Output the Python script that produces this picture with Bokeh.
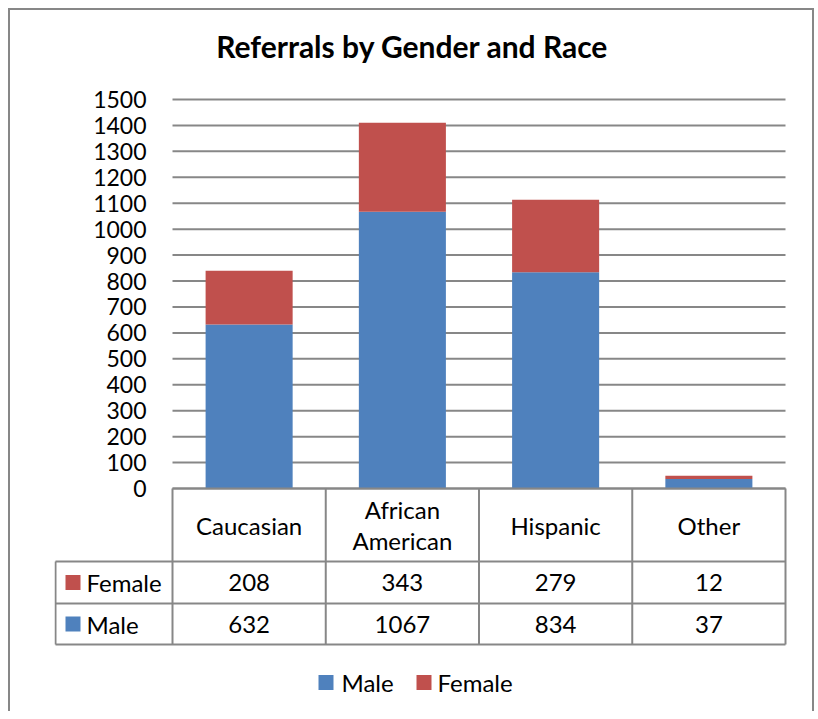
from bokeh.plotting import figure
from bokeh.layouts import column
from bokeh.models import Range1d, FixedTicker, ColumnDataSource
from bokeh.core.properties import value
from bokeh.embed import file_html
from bokeh.resources import INLINE

# ---- data ----
title = "Referrals by Gender and Race"
categories = ["Caucasian", "African\nAmerican", "Hispanic", "Other"]
series = ["Male", "Female"]
male = [632, 1067, 834, 37]
female = [208, 343, 279, 12]
colors = {"Male": "#4F81BD", "Female": "#C0504D"}
y_ticks = list(range(0, 1501, 100))

FONT = "Lato"
GRID = "#878787"

# ---- layout geometry (page px) ----
OX, OY = 10, 10          # content origin inside the chart border
W, H = 802, 701
PLOT_L, PLOT_R = 172, 785  # plot area (category axis)
Y0_PX, Y1500_PX = 488, 99  # pixel rows of 0 and 1500
F_L, F_R, F_T, F_B = 54, 787, OY, OY + H
n = len(categories)
COLW = (PLOT_R - PLOT_L) / n
S = (Y0_PX - Y1500_PX) / 1500.0


def px(x):
    return (x - PLOT_L) / COLW


def py(y):
    return (Y0_PX - y) / S


xc = [i + 0.5 for i in range(n)]

p = figure(width=W, height=H, output_backend="svg", toolbar_location=None,
           x_range=Range1d(px(F_L), px(F_R)), y_range=Range1d(py(F_B), py(F_T)),
           x_axis_type=None,
           min_border_left=F_L - OX, min_border_right=OX + W - F_R,
           min_border_top=0, min_border_bottom=0)
p.outline_line_color = None
p.grid.visible = False

# y axis (labels pulled into the frame with a negative standoff)
ax = p.yaxis[0]
ax.ticker = FixedTicker(ticks=y_ticks)
ax.axis_line_color = None
ax.major_tick_line_color = None
ax.minor_tick_line_color = None
ax.major_tick_in = 0
ax.major_tick_out = 0
ax.major_label_standoff = -(146 - F_L)
ax.major_label_text_font = FONT
ax.major_label_text_font_size = "23px"
ax.major_label_text_color = "black"

# gridlines across the plot area only
p.segment(x0=[0] * len(y_ticks), x1=[n] * len(y_ticks), y0=y_ticks, y1=y_ticks,
          line_color=GRID, line_width=2)

# stacked bars
src = ColumnDataSource(dict(x=xc, Male=male, Female=female))
p.vbar_stack(series, x="x", width=0.568, source=src,
             color=[colors[s] for s in series], line_color=None)

# title
p.text(x=[px(412)], y=[py(45)], text=[title], text_font=value(FONT),
       text_font_style="bold", text_font_size="30px", text_color="black",
       text_align="center", text_baseline="alphabetic")

# ---- data table under the plot ----
ROWS = [py(488), py(561), py(603), py(644)]
T_LEFT = px(55)
hx0 = [0, T_LEFT, T_LEFT, T_LEFT]
p.segment(x0=hx0, x1=[n] * 4, y0=ROWS, y1=ROWS, line_color=GRID, line_width=2)
vx = list(range(n + 1)) + [T_LEFT]
vy0 = [ROWS[0]] * (n + 1) + [ROWS[1]]
vy1 = [ROWS[3]] * (n + 2)
p.segment(x0=vx, x1=vx, y0=vy0, y1=vy1, line_color=GRID, line_width=2)

TXT = dict(text_font=value(FONT), text_font_size="24px", text_color="black",
           text_baseline="middle")
p.text(x=xc, y=[(ROWS[0] + ROWS[1]) / 2] * n, text=categories, text_align="center",
       text_line_height=1.1, **TXT)

rows = [("Female", female, (ROWS[1] + ROWS[2]) / 2), ("Male", male, (ROWS[2] + ROWS[3]) / 2)]
for name, vals, yc in rows:
    p.text(x=xc, y=[yc] * n, text=[str(v) for v in vals], text_align="center", **TXT)
    p.rect(x=[px(72.5)], y=[yc], width=15, height=15, width_units="screen",
           height_units="screen", fill_color=colors[name], line_color=None)
    p.text(x=[px(86)], y=[yc], text=[name], text_align="left", **TXT)

# legend at the bottom
LEG_Y = py(682)
leg = [("Male", 325.5, 341), ("Female", 423.5, 437)]
for name, sq, tx in leg:
    p.rect(x=[px(sq)], y=[LEG_Y], width=15, height=15, width_units="screen",
           height_units="screen", fill_color=colors[name], line_color=None)
    p.text(x=[px(tx)], y=[LEG_Y], text=[name], text_align="left", **TXT)

layout = column(p, styles={"border-top": "2px solid #878787",
                           "border-left": "2px solid #878787",
                           "border-right": "2px solid #878787",
                           "margin-left": "8px", "margin-top": "8px"})

open("out.html", "w").write(file_html(layout, INLINE))
